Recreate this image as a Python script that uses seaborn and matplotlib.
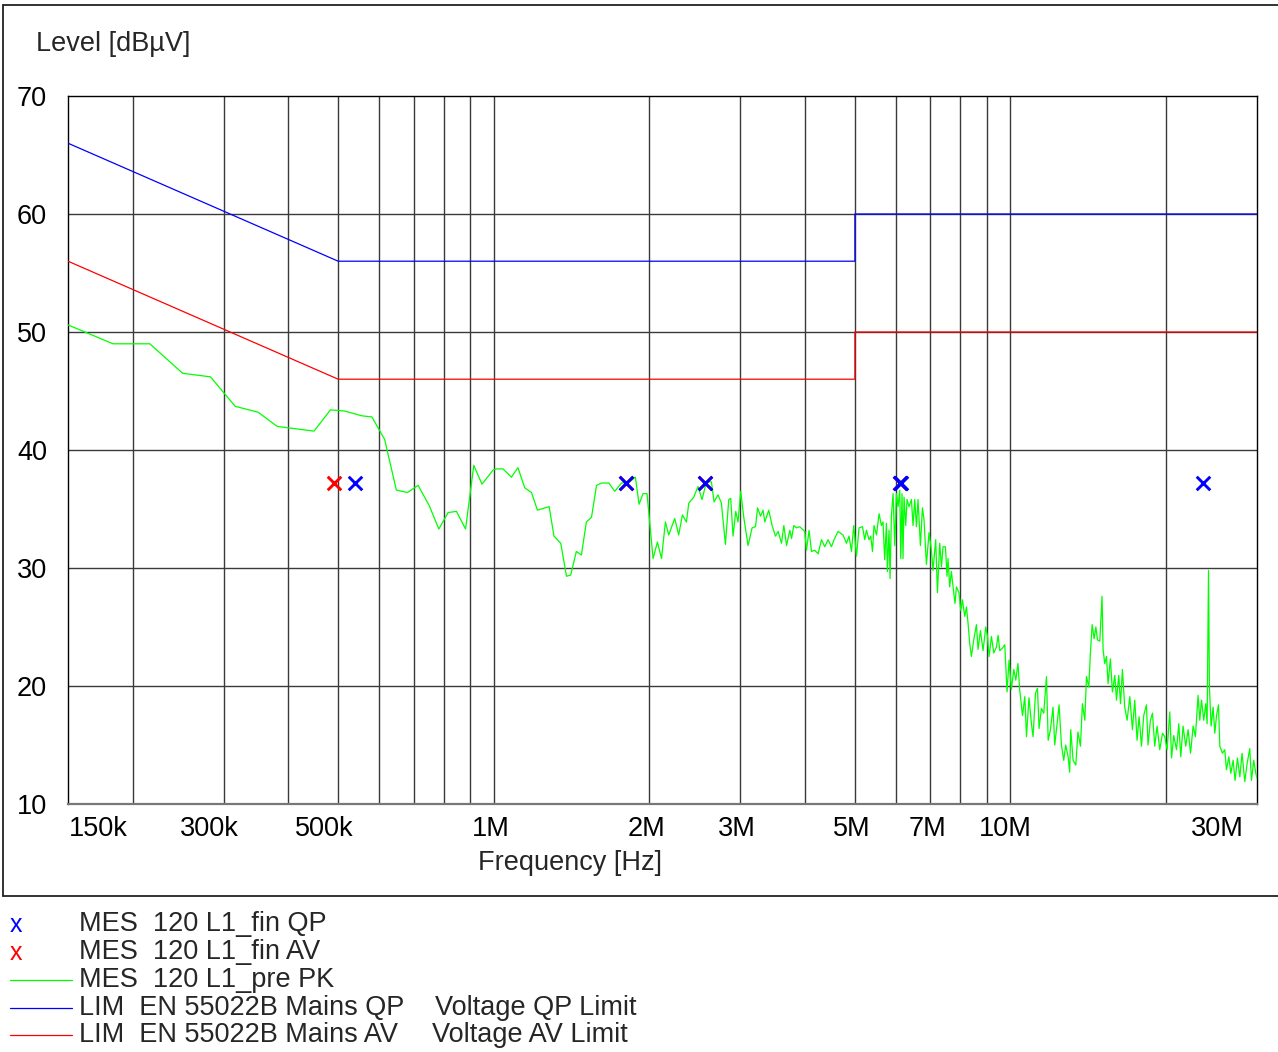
import numpy as np
import pandas as pd
import seaborn as sns
import matplotlib
matplotlib.use("Agg")
import matplotlib.pyplot as plt
from matplotlib.lines import Line2D
import matplotlib.transforms as mtransforms

# ---------------- data ----------------
# pre-scan peak trace (MHz, dBuV)
pk_freq_mhz = [
    0.150, 0.1833, 0.216, 0.250, 0.283, 0.316, 0.350, 0.381, 0.449, 0.483,
    0.515, 0.555, 0.581, 0.615, 0.648, 0.681, 0.714, 0.750, 0.783, 0.816,
    0.847, 0.882, 0.915, 0.949, 0.997, 1.012, 1.042, 1.082, 1.114, 1.148,
    1.183, 1.215, 1.280, 1.308, 1.348, 1.383, 1.409, 1.445, 1.478, 1.511,
    1.546, 1.581, 1.616, 1.670, 1.715, 1.767, 1.833, 1.880, 1.911, 1.945,
    1.980, 2.034, 2.074, 2.112, 2.149, 2.181, 2.240, 2.280, 2.318, 2.360,
    2.385, 2.438, 2.485, 2.530, 2.580, 2.638, 2.669, 2.717, 2.758, 2.808,
    2.850, 2.875, 2.905, 2.940, 2.970, 3.006, 3.047, 3.106, 3.162, 3.211,
    3.240, 3.283, 3.321, 3.346, 3.406, 3.457, 3.510, 3.551, 3.605, 3.643,
    3.687, 3.741, 3.770, 3.808, 3.854, 3.911, 3.952, 3.999, 4.029, 4.076,
    4.120, 4.181, 4.243, 4.308, 4.372, 4.436, 4.504, 4.557, 4.638, 4.742,
    4.815, 4.871, 4.924, 4.974, 5.035, 5.093, 5.171, 5.224, 5.264, 5.325,
    5.366, 5.407, 5.445, 5.504, 5.568, 5.627, 5.667, 5.710, 5.754, 5.779,
    5.821, 5.848, 5.884, 5.927, 5.972, 6.017, 6.060, 6.106, 6.133, 6.168,
    6.195, 6.224, 6.271, 6.308, 6.364, 6.432, 6.478, 6.528, 6.577, 6.624,
    6.695, 6.755, 6.803, 6.876, 6.957, 7.031, 7.081, 7.167, 7.222, 7.297,
    7.353, 7.405, 7.484, 7.538, 7.571, 7.628, 7.686, 7.766, 7.811, 7.860,
    7.952, 8.012, 8.073, 8.157, 8.219, 8.279, 8.340, 8.403, 8.491, 8.593,
    8.655, 8.748, 8.851, 8.958, 9.026, 9.091, 9.188, 9.283, 9.395, 9.463,
    9.535, 9.649, 9.750, 9.849, 9.938, 10.04, 10.15, 10.24, 10.34, 10.42,
    10.55, 10.66, 10.74, 10.86, 10.98, 11.06, 11.18, 11.28, 11.36, 11.48,
    11.60, 11.74, 11.83, 11.95, 12.09, 12.18, 12.31, 12.42, 12.55, 12.68,
    12.79, 12.93, 13.02, 13.08, 13.22, 13.38, 13.51, 13.66, 13.78, 13.93,
    14.03, 14.18, 14.28, 14.39, 14.52, 14.63, 14.74, 14.89, 15.04, 15.11,
    15.22, 15.34, 15.45, 15.61, 15.75, 15.92, 16.04, 16.20, 16.33, 16.47,
    16.64, 16.82, 17.02, 17.22, 17.40, 17.58, 17.74, 17.93, 18.11, 18.33,
    18.46, 18.66, 18.83, 19.02, 19.22, 19.45, 19.69, 19.89, 20.10, 20.34,
    20.50, 20.70, 20.96, 21.17, 21.36, 21.58, 21.84, 22.07, 22.31, 22.57,
    22.80, 23.07, 23.25, 23.43, 23.66, 23.88, 24.02, 24.17, 24.27, 24.45,
    24.67, 24.86, 25.05, 25.27, 25.42, 25.72, 25.99, 26.18, 26.46, 26.70,
    26.97, 27.21, 27.50, 27.79, 28.07, 28.41, 28.70, 29.05, 29.27, 29.57,
    29.84, 30.00,
]
pk_level = [
    50.6, 49.0, 49.0, 46.5, 46.2, 43.7, 43.2, 42.0, 41.6, 43.4,
    43.3, 42.9, 42.8, 40.9, 36.6, 36.4, 37.0, 35.3, 33.3, 34.7,
    34.8, 33.3, 38.7, 37.1, 38.3, 38.4, 38.4, 37.7, 38.5, 36.8,
    36.4, 34.9, 35.2, 32.7, 32.1, 29.3, 29.4, 31.4, 31.1, 33.9,
    34.3, 37.0, 37.2, 37.2, 36.5, 37.2, 37.3, 37.7, 35.4, 36.3,
    36.3, 30.8, 32.2, 30.8, 33.9, 32.8, 34.2, 32.8, 34.5, 33.9,
    35.5, 36.0, 36.9, 35.8, 37.3, 37.3, 35.6, 36.2, 35.5, 32.0,
    35.8, 35.9, 32.7, 34.8, 33.9, 36.5, 34.3, 31.9, 33.4, 33.5,
    35.1, 34.4, 34.9, 33.9, 34.9, 33.6, 32.7, 33.1, 32.1, 33.6,
    31.9, 33.2, 32.5, 33.6, 33.4, 33.5, 33.3, 33.1, 31.5, 33.2,
    31.4, 31.5, 31.2, 32.4, 31.8, 32.4, 31.8, 32.4, 33.1, 32.8,
    32.1, 32.7, 31.4, 33.6, 31.0, 33.4, 33.5, 32.4, 33.2, 32.4,
    32.7, 31.4, 33.6, 32.8, 34.6, 33.6, 33.9, 30.7, 33.8, 29.7,
    33.2, 29.1, 34.5, 36.3, 31.9, 36.3, 35.2, 36.6, 30.8, 36.3,
    30.8, 36.0, 33.6, 35.8, 35.2, 35.8, 33.6, 35.8, 33.5, 35.8,
    31.9, 35.1, 34.1, 30.3, 33.0, 31.5, 29.8, 32.4, 27.9, 32.1,
    30.1, 31.8, 31.8, 29.3, 30.8, 28.4, 29.7, 27.9, 27.0, 28.4,
    27.9, 26.4, 27.3, 25.9, 26.7, 25.3, 23.6, 22.5, 23.9, 25.2,
    23.1, 24.7, 23.0, 25.0, 24.2, 22.5, 24.2, 22.8, 23.3, 24.3,
    23.0, 23.2, 23.5, 19.5, 22.2, 19.7, 21.4, 20.5, 21.9, 19.7,
    17.5, 19.1, 15.7, 19.0, 16.8, 15.7, 19.4, 19.8, 16.4, 18.1,
    17.7, 20.8, 15.4, 16.3, 18.2, 15.0, 16.8, 18.4, 15.0, 13.7,
    15.0, 14.0, 12.7, 16.3, 13.7, 13.3, 16.1, 14.9, 18.5, 17.1,
    20.8, 19.9, 22.8, 25.2, 24.0, 25.0, 23.9, 23.8, 27.6, 23.1,
    21.9, 22.5, 20.2, 22.3, 19.5, 20.9, 18.8, 20.9, 18.5, 21.4,
    18.2, 17.1, 19.1, 16.3, 18.8, 15.4, 17.4, 14.9, 17.5, 18.4,
    15.0, 17.1, 17.7, 14.9, 16.6, 14.6, 16.0, 15.7, 14.6, 17.8,
    13.9, 15.8, 14.6, 16.8, 14.0, 16.6, 14.9, 16.3, 14.3, 16.6,
    15.7, 19.2, 17.1, 18.8, 17.1, 18.5, 16.8, 29.8, 19.9, 16.6,
    18.2, 16.0, 17.5, 18.4, 14.9, 14.3, 14.6, 12.9, 14.0, 12.6,
    13.7, 12.0, 13.9, 12.3, 14.3, 11.9, 13.4, 14.7, 12.0, 13.7,
    12.6, 12.2,
]

# limit lines EN 55022B mains (MHz, dBuV)
lim_freq_mhz = [0.15, 0.5, 5.0, 5.0, 30.0]
lim_qp = [66, 56, 56, 60, 60]
lim_av = [56, 46, 46, 50, 50]

# final measurements
qp_freq_mhz = [0.539, 1.80, 2.56, 6.10, 6.14, 23.6]
qp_level = [37.2, 37.2, 37.2, 37.2, 37.2, 37.2]
av_freq_mhz = [0.491, 1.80, 2.56, 6.11]
av_level = [37.2, 37.2, 37.2, 37.2]

x_tick_mhz = [0.15, 0.3, 0.5, 1, 2, 3, 5, 7, 10, 30]
x_tick_labels = ["150k", "300k", "500k", "1M", "2M", "3M", "5M", "7M", "10M", "30M"]
y_ticks = [10, 20, 30, 40, 50, 60, 70]

legend_rows = [
    ("x", "#0000ff", "MES  120 L1_fin QP", ""),
    ("x", "#ff0000", "MES  120 L1_fin AV", ""),
    ("line", "#00ff00", "MES  120 L1_pre PK", ""),
    ("line", "#0000ff", "LIM  EN 55022B Mains QP", "Voltage QP Limit"),
    ("line", "#ff0000", "LIM  EN 55022B Mains AV", "Voltage AV Limit"),
]

# ---------------- figure ----------------
sns.set_theme(style="white")
plt.rcParams["font.family"] = ["Liberation Sans", "DejaVu Sans"]

W, H = 1278, 1052
FS = 19.5
fig = plt.figure(figsize=(W / 100, H / 100), dpi=100)
fig.patch.set_facecolor("white")

def fx(px):
    return px / W

def fy(py):
    return 1 - py / H

ax_l, ax_r, ax_t, ax_b = 68, 1257, 96, 804
ax = fig.add_axes([fx(ax_l), fy(ax_b), fx(ax_r - ax_l), (ax_b - ax_t) / H])
ax.set_facecolor("white")
ax.set_xscale("log")

pk = pd.DataFrame({"f": np.array(pk_freq_mhz) * 1e6, "lvl": pk_level})
lim = pd.DataFrame({"f": np.array(lim_freq_mhz) * 1e6, "qp": lim_qp, "av": lim_av})
qp = pd.DataFrame({"f": np.array(qp_freq_mhz) * 1e6, "lvl": qp_level})
av = pd.DataFrame({"f": np.array(av_freq_mhz) * 1e6, "lvl": av_level})

sns.lineplot(data=lim, x="f", y="qp", ax=ax, color="#0000ff", lw=0.9,
             estimator=None, sort=False, zorder=3)
sns.lineplot(data=lim, x="f", y="av", ax=ax, color="#ff0000", lw=0.9,
             estimator=None, sort=False, zorder=3)
sns.lineplot(data=pk, x="f", y="lvl", ax=ax, color="#00ff00", lw=0.9,
             estimator=None, sort=False, zorder=4)
sns.scatterplot(data=av, x="f", y="lvl", ax=ax, marker="x", color="#ff0000",
                s=95, linewidth=2.1, zorder=5)
sns.scatterplot(data=qp, x="f", y="lvl", ax=ax, marker="x", color="#0000ff",
                s=95, linewidth=2.1, zorder=6)

ax.set_xlim(0.15e6, 30e6)
ax.set_ylim(10, 70)

# grid
minor_f = []
for dec in (1e5, 1e6, 1e7):
    for m in range(1, 10):
        v = m * dec
        if 0.15e6 < v < 30e6:
            minor_f.append(v)
for v in minor_f:
    ax.axvline(v, color="#3a3a3a", lw=1.0, zorder=1)
for v in y_ticks[1:-1]:
    ax.axhline(v, color="#3a3a3a", lw=1.0, zorder=1)

for s in ax.spines.values():
    s.set_color("#000000")
    s.set_linewidth(1.0)
ax.spines["bottom"].set_color("#777777")
ax.spines["bottom"].set_linewidth(1.6)

ax.set_yticks(y_ticks)
ax.set_yticklabels([str(v) for v in y_ticks])
ax.set_xticks([v * 1e6 for v in x_tick_mhz])
ax.set_xticklabels(x_tick_labels)
ax.xaxis.set_minor_locator(matplotlib.ticker.NullLocator())
ax.tick_params(axis="both", length=0, labelsize=FS, colors="#000000")
ax.tick_params(axis="y", pad=15)
ax.tick_params(axis="x", pad=9)
ax.set_xlabel("")
ax.set_ylabel("")

x_offsets = [1, -14, -14, -3, -3, -3, -3, -3, -5, -13]
for lab, off in zip(ax.get_xticklabels(), x_offsets):
    lab.set_transform(lab.get_transform() +
                      mtransforms.ScaledTranslation(off / 100, 0, fig.dpi_scale_trans))
xl = ax.get_xticklabels()
xl[0].set_ha("left")
xl[-1].set_ha("right")

fig.text(fx(36), fy(44), "Level [dBµV]", fontsize=FS, ha="left", va="center")
fig.text(fx(570), fy(863), "Frequency [Hz]", fontsize=FS, ha="center", va="center")

# outer frame
fig.add_artist(Line2D([fx(3), fx(1278)], [fy(5), fy(5)], color="#222222", lw=1.3))
fig.add_artist(Line2D([fx(3), fx(3)], [fy(5), fy(896)], color="#222222", lw=1.3))
fig.add_artist(Line2D([fx(3), fx(1278)], [fy(896), fy(896)], color="#222222", lw=1.3))

# legend block
row_y = [924, 952, 980, 1008, 1035]
second_x = [None, None, None, 435, 432]
for (kind, col, txt, txt2), yy, sx in zip(legend_rows, row_y, second_x):
    if kind == "x":
        fig.text(fx(10), fy(yy + 1), "x", color=col, fontsize=18, ha="left", va="center")
    else:
        fig.add_artist(Line2D([fx(10), fx(72)], [fy(yy), fy(yy)], color=col, lw=0.9))
    fig.text(fx(79), fy(yy), txt, fontsize=FS, ha="left", va="center")
    if txt2:
        fig.text(fx(sx), fy(yy), txt2, fontsize=FS, ha="left", va="center")

fig.savefig("out.png", dpi=100, facecolor="white")
